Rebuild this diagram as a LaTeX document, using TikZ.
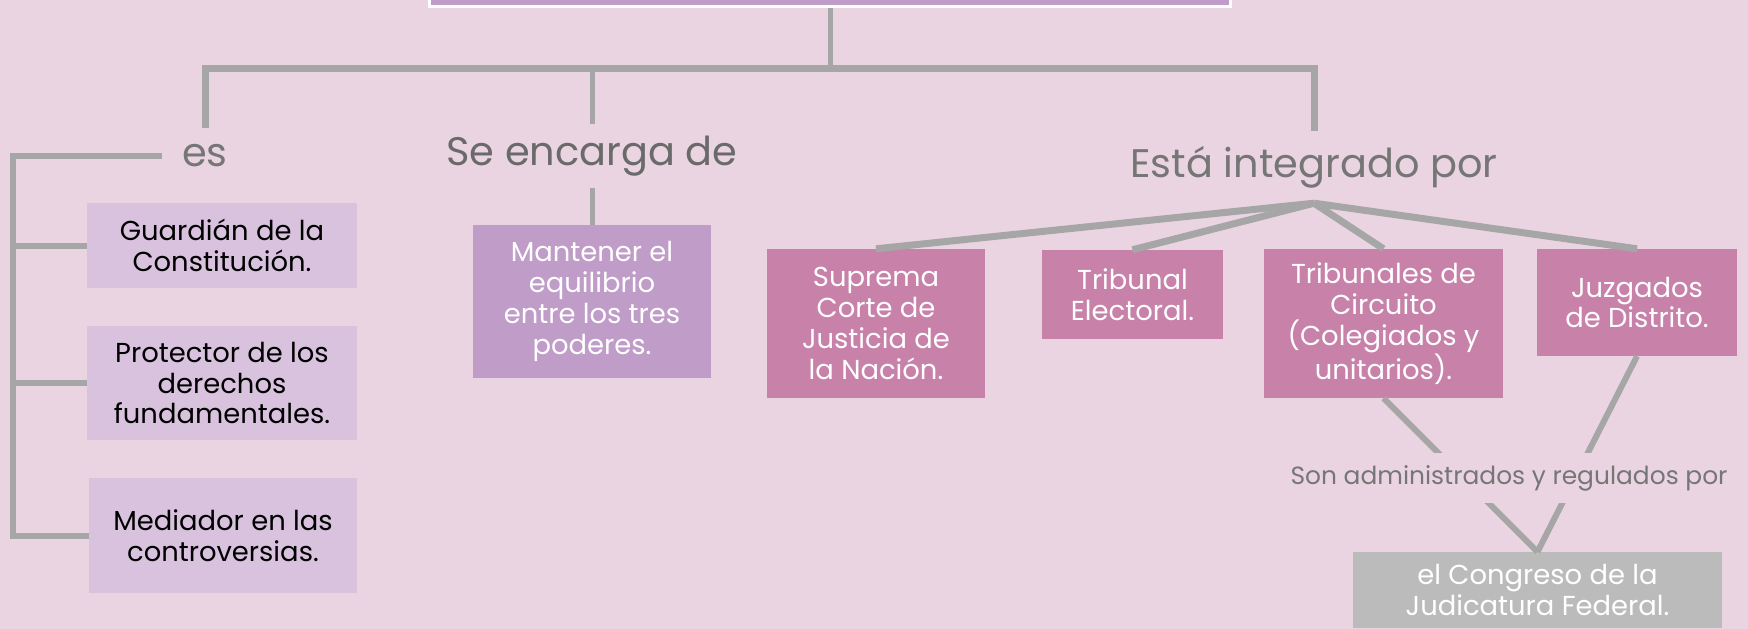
\documentclass[tikz,border=0pt]{standalone}
\usepackage{fontspec}
\setmainfont{Poppins}
\usetikzlibrary{calc}
\usetikzlibrary{positioning}

\definecolor{bgcol}{RGB}{234,212,225}
\definecolor{linecol}{RGB}{166,166,166}
\definecolor{labelcol}{RGB}{118,118,118}
\definecolor{purplecol}{RGB}{192,156,200}
\definecolor{lilaccol}{RGB}{216,194,222}
\definecolor{pinkcol}{RGB}{200,130,170}
\definecolor{greycol}{RGB}{187,187,187}

\newcommand{\boxfont}{\fontsize{27.5}{31}\selectfont}
\newcommand{\lblfont}{\fontsize{40}{44}\selectfont}
\newcommand{\admfont}{\fontsize{25}{30}\selectfont}

\begin{document}
\begin{tikzpicture}[x=1bp,y=-1bp,line join=miter,
    conn/.style={draw=linecol,line width=7bp},
    lbl/.style={text=labelcol,font=\lblfont,inner sep=0bp},
    box/.style={rectangle,align=center,inner sep=2bp,font=\boxfont}]
    \fill[bgcol] (0,0) rectangle (1748,629);
    \useasboundingbox (0,0) rectangle (1748,629);
    \clip (0,0) rectangle (1748,629);
    %%
    % Node: top (cut off by the page edge)
    \node[fill=purplecol,draw=white,line width=3bp,minimum width=801bp,
        minimum height=100bp,anchor=south] (top) at (830,8) {};
    % Node: labels
    \node[lbl,inner xsep=20bp,minimum height=56bp] (es) at (205,156) {es};
    \node[lbl,text=labelcol!90!black,minimum height=64bp] (seenc) at (592,156) {Se encarga de};
    \node[lbl,minimum height=72bp] (integ) at (1314,167) {Está integrado por};
    % Node: left column
    \node[box,fill=lilaccol,minimum width=270bp,minimum height=85bp] (g1) at (222,245.5)
        {Guardián de la\\Constitución.};
    \node[box,fill=lilaccol,minimum width=270bp,minimum height=114bp] (g2) at (222,383)
        {Protector de los\\derechos\\fundamentales.};
    \node[box,fill=lilaccol,minimum width=268bp,minimum height=115bp] (g3) at (223,535.5)
        {Mediador en las\\controversias.};
    % Node: mant
    \node[box,fill=purplecol,text=white,minimum width=238bp,minimum height=153bp] (mant) at (592,301.5)
        {Mantener el\\equilibrio\\entre los tres\\poderes.};
    % Node: right row
    \node[box,fill=pinkcol,text=white,minimum width=218bp,minimum height=149bp] (sup) at (876,323.5)
        {Suprema\\Corte de\\Justicia de\\la Nación.};
    \node[box,fill=pinkcol,text=white,minimum width=181bp,minimum height=89bp] (trie) at (1132.5,294.5)
        {Tribunal\\Electoral.};
    \node[box,fill=pinkcol,text=white,minimum width=239bp,minimum height=149bp] (tric) at (1383.5,323.5)
        {Tribunales de\\Circuito\\(Colegiados y\\unitarios).};
    \node[box,fill=pinkcol,text=white,minimum width=200bp,minimum height=107bp] (juz) at (1637,302.5)
        {Juzgados\\de Distrito.};
    % Node: cong
    \node[box,fill=greycol,text=white,minimum width=369bp,minimum height=76bp] (cong) at (1537.5,590)
        {el Congreso de la\\Judicatura Federal.};
    %%
    \coordinate (bus) at (830,69);
    \coordinate (rail) at (13,158);
    % Edge: top -> es, seenc, integ
    \draw[conn,line width=5bp] (top.south) -- (bus);
    \draw[conn] (es.north) |- (bus) -| (integ.north);
    \draw[conn,line width=5bp] (seenc.north) -- (seenc.north |- bus);
    % Edge: es -> g1, g2, g3
    \draw[conn,line width=6bp] (es.west) -- (es.west -| rail) -- (rail |- g3.west) -- (g3.west);
    \foreach \b in {g1,g2} {
        \draw[conn,line width=6bp] (rail |- \b.west) -- (\b.west);
    }
    % Edge: seenc -> mant
    \draw[conn,line width=5bp] (seenc.south) -- (mant.north);
    % Edge: integ -> sup, trie, tric, juz
    \foreach \b in {sup,trie,tric,juz} {
        \draw[conn] (integ.south) -- (\b.north);
    }
    % Edge: tric, juz -> cong
    \draw[conn,line width=6bp] (tric.south) -- (cong.north);
    \draw[conn,line width=6bp] (juz.south) -- (cong.north);
    % Node: adm (drawn over the two edges)
    \node[lbl,font=\admfont,fill=bgcol,inner xsep=4bp,minimum height=50bp] (adm) at (1509,478)
        {Son administrados y regulados por};
    %
\end{tikzpicture}
\end{document}
